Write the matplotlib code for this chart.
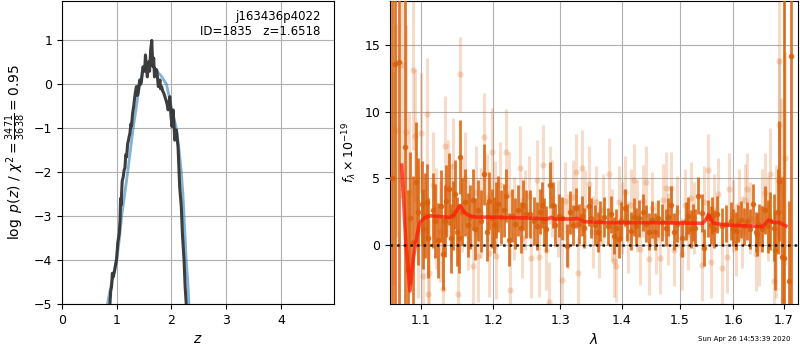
import numpy as np
import matplotlib
matplotlib.use("Agg")
import matplotlib.pyplot as plt
from matplotlib.ticker import NullLocator, FixedLocator, FixedFormatter

# --- p(z) panel ---
z_pz = [0.86, 0.876, 0.89, 0.906, 0.92, 0.937, 0.96, 0.98, 0.998, 1.02, 1.046, 1.06, 1.07, 1.08,
        1.089, 1.10, 1.12, 1.135, 1.15, 1.165, 1.18, 1.20, 1.21, 1.225, 1.24, 1.26, 1.27, 1.29,
        1.31, 1.33, 1.345, 1.36, 1.375, 1.39, 1.405, 1.42, 1.435, 1.45, 1.465, 1.48, 1.495, 1.51,
        1.525, 1.535, 1.545, 1.56, 1.57, 1.59, 1.60, 1.615, 1.62, 1.64, 1.65, 1.665, 1.675, 1.69,
        1.70, 1.73, 1.745, 1.76, 1.79, 1.80, 1.82, 1.84, 1.86, 1.90, 1.92, 1.94, 1.97, 1.99,
        2.01, 2.03, 2.05, 2.06, 2.08, 2.09, 2.11, 2.12, 2.15, 2.18, 2.20, 2.21, 2.23, 2.25,
        2.27, 2.29]
logp = [-5.6, -5.0, -4.7, -4.61, -4.3, -4.38, -4.25, -4.1, -3.96, -3.6, -3.39, -3.1, -2.6, -2.75,
        -2.48, -2.2, -2.1, -1.95, -1.9, -1.6, -1.65, -1.35, -1.3, -1.2, -1.12, -0.9, -0.95, -0.66,
        -0.5, -0.28, -0.15, -0.05, -0.25, -0.2, -0.05, 0.1, 0.0, 0.05, 0.25, 0.40, 0.35, 0.3,
        0.67, 0.5, 0.35, 0.17, 0.4, 0.52, 0.3, 0.65, 0.78, 1.0, 0.7, 0.40, 0.6, 0.17,
        0.35, 0.33, 0.15, -0.05, 0.10, -0.1, -0.05, -0.15, -0.2, -0.36, -0.45, -0.58, -0.28, -0.7,
        -0.96, -0.58, -1.0, -1.27, -1.1, -1.04, -1.3, -1.42, -2.33, -2.79, -3.39, -3.6, -4.0, -4.61,
        -5.0, -5.6]
z_smooth = [0.80, 0.83, 0.90, 1.00, 1.05, 1.09, 1.145, 1.20, 1.25, 1.30, 1.36, 1.42, 1.48, 1.53,
            1.575, 1.62, 1.68, 1.73, 1.82, 1.91, 1.97, 2.03, 2.09, 2.14, 2.18, 2.21, 2.23, 2.25,
            2.27, 2.30, 2.32, 2.34]
logp_smooth = [-5.6, -5.0, -4.55, -4.0, -3.5, -3.0, -2.5, -2.0, -1.5, -1.0, -0.5, 0.0, 0.28, 0.43,
               0.48, 0.46, 0.40, 0.31, 0.18, 0.0, -0.35, -0.7, -1.0, -1.5, -2.0, -2.5, -3.0, -3.5,
               -4.0, -4.5, -5.0, -5.6]

# --- spectrum panel: binned points (dark) ---
wl_dark = [1.0622, 1.0661, 1.0716, 1.0790, 1.0833, 1.0860, 1.0899, 1.0934, 1.0961,
           1.1009, 1.1030, 1.1053, 1.1075, 1.1100, 1.1155, 1.1186, 1.1230, 1.1266, 1.1297, 1.1320,
           1.1343, 1.1378, 1.1411, 1.1433, 1.1456, 1.1487, 1.1514, 1.1526, 1.1553, 1.1594, 1.1636,
           1.1664, 1.1710, 1.1733, 1.1780, 1.1818, 1.1865, 1.1907, 1.1936, 1.1975, 1.2004, 1.2043,
           1.2066, 1.2115, 1.2148, 1.2177, 1.2226, 1.2265, 1.2309, 1.2353, 1.2397, 1.2427, 1.2482,
           1.2541, 1.2591, 1.2641, 1.2682, 1.2712, 1.2743, 1.2778, 1.2845, 1.2881, 1.2927, 1.2989,
           1.3036, 1.3103, 1.3157, 1.3209, 1.3246, 1.3289, 1.3341, 1.3384, 1.3460, 1.3497, 1.3546,
           1.3595, 1.3643, 1.3704, 1.3775, 1.3824, 1.3869, 1.3896, 1.3952, 1.3991, 1.4046, 1.4091,
           1.4147, 1.4204, 1.4243, 1.4293, 1.4362, 1.4401, 1.4460, 1.4517, 1.4574, 1.4621, 1.4691,
           1.4756, 1.4796, 1.4844, 1.4902, 1.4955, 1.5053, 1.5114, 1.5155, 1.5204, 1.5246, 1.5282,
           1.5343, 1.5405, 1.5447, 1.5527, 1.5571, 1.5601, 1.5632, 1.5694, 1.5776, 1.5852, 1.5947,
           1.5990, 1.6042, 1.6087, 1.6139, 1.6202, 1.6267, 1.6319, 1.6384, 1.6431, 1.6462, 1.6496,
           1.6555, 1.6628, 1.6674, 1.6728, 1.6794, 1.6814, 1.6874, 1.6908, 1.6955, 1.6995,
           1.7097, 1.7152]
fl_dark = [5.0, 13.6, 13.7, 7.35, -1.9, 2.0, 0.2, 4.7, 2.5,
           3.1, 1.2, 2.2, 3.2, 0.5, 2.6, 1.8, 0.36, 2.9, -0.7, 1.8,
           3.3, 4.2, 0.5, 2.2, 3.8, 1.0, 0.5, 6.6, 2.5, 3.2, 1.5,
           2.1, 3.4, 1.2, 2.6, 1.8, 5.3, 1.0, 3.3, 2.0, 1.5, 2.6,
           3.1, 2.1, 2.6, 3.7, 0.4, 2.2, 1.6, 2.6, 1.3, 3.0, 2.3,
           2.3, 1.8, 1.45, 2.5, 3.0, 1.8, 1.2, 4.5, 3.0, 1.5, 2.2,
           2.0, -0.05, 2.45, 1.5, 2.8, 1.6, 2.2, 1.3, 2.9, 2.0, 1.5,
           1.0, 1.8, 2.1, 1.4, 2.3, 0.7, 1.3, 0.45, 1.8, 2.8, 1.7,
           1.05, 2.1, 1.4, 2.0, 2.45, 1.6, 1.0, 1.9, 1.0, 2.0, 1.7,
           1.3, 2.1, 3.0, 1.0, 1.6, 0.5, 1.8, 2.2, 1.2, 1.7, 1.3,
           3.7, 2.4, -0.2, 2.0, 1.5, 2.2, 1.2, 2.3, 1.4, 1.6, 1.8,
           1.3, 1.05, 1.6, 1.9, 1.4, 1.8, 1.2, 3.1, 1.0, 0.8, 1.5,
           1.2, 2.6, 1.4, 1.8, 1.3, -0.4, 2.5, 4.8, -0.9, -1.0,
           -2.7, 14.2]
err_dark = [40, 35, 30, 12, 6, 5, 5, 4.5, 4,
            3.2, 3.0, 3.2, 2.9, 3.0, 2.8, 2.8, 2.8, 2.7, 2.7, 2.7,
            2.7, 2.7, 2.6, 2.6, 2.6, 2.6, 2.6, 2.8, 2.5, 2.5, 2.4,
            2.4, 2.3, 2.3, 2.3, 2.3, 2.3, 2.2, 2.2, 2.2, 2.1, 2.1,
            2.1, 2.0, 2.0, 2.0, 2.0, 2.0, 1.9, 1.9, 1.9, 1.9, 1.8,
            1.8, 1.8, 1.8, 1.7, 1.7, 1.7, 1.7, 1.7, 1.7, 1.6, 1.6,
            1.6, 1.6, 1.6, 1.5, 1.5, 1.5, 1.5, 1.5, 1.5, 1.5, 1.5,
            1.5, 1.5, 1.5, 1.4, 1.4, 1.4, 1.4, 1.4, 1.4, 1.4, 1.4,
            1.4, 1.4, 1.4, 1.4, 1.4, 1.4, 1.4, 1.4, 1.4, 1.4, 1.4,
            1.4, 1.4, 1.4, 1.4, 1.4, 1.4, 1.4, 1.4, 1.4, 1.4, 1.4,
            1.4, 1.4, 1.4, 1.4, 1.4, 1.4, 1.4, 1.4, 1.4, 1.4, 1.4,
            1.4, 1.4, 1.4, 1.4, 1.4, 1.4, 1.5, 1.5, 1.5, 1.6, 1.6,
            1.7, 1.8, 2.0, 2.2, 2.5, 3.0, 3.2, 4.5, 6, 25,
            6, 40]

# --- spectrum panel: unbinned points (light) ---
wl_light = [1.0640, 1.0680, 1.0760, 1.0803, 1.0840, 1.0899, 1.0921, 1.0961, 1.0996, 1.1030, 1.1083,
            1.1090, 1.1110, 1.1155, 1.1200, 1.1250, 1.1297, 1.1320, 1.1360, 1.1400, 1.1433, 1.1505,
            1.1526, 1.1560, 1.1600, 1.1640, 1.1710, 1.1750, 1.1780, 1.1820, 1.1865, 1.1907, 1.1936,
            1.1975, 1.2020, 1.2043, 1.2100, 1.2177, 1.2230, 1.2246, 1.2300, 1.2382, 1.2420, 1.2470,
            1.2520, 1.2560, 1.2641, 1.2680, 1.2728, 1.2778, 1.2830, 1.2835, 1.2870, 1.2960, 1.3036,
            1.3080, 1.3120, 1.3200, 1.3246, 1.3275, 1.3341, 1.3400, 1.3460, 1.3520, 1.3570, 1.3620,
            1.3680, 1.3786, 1.3830, 1.3869, 1.3896, 1.3950, 1.4000, 1.4046, 1.4100, 1.4160, 1.4204,
            1.4250, 1.4300, 1.4360, 1.4401, 1.4460, 1.4520, 1.4580, 1.4661, 1.4700, 1.4756, 1.4800,
            1.4844, 1.4900, 1.4960, 1.5053, 1.5100, 1.5160, 1.5210, 1.5270, 1.5405, 1.5450, 1.5527,
            1.5571, 1.5630, 1.5700, 1.5776, 1.5882, 1.5914, 1.5990, 1.6050, 1.6100, 1.6160, 1.6220,
            1.6267, 1.6320, 1.6431, 1.6496, 1.6560, 1.6628, 1.6680, 1.6728, 1.6794, 1.6840, 1.6900,
            1.6910, 1.6950, 1.7015]
fl_light = [5.0, 8.6, 13.5, 8.5, 4.0, 13.1, 8.2, 1.0, 8.4, -2.3, 9.8,
            -3.7, -2.1, 4.5, 2.0, 1.0, -3.3, 7.4, 4.3, 2.5, 5.9, -3.7,
            12.8, 3.0, 5.0, 1.5, -1.6, 4.0, -0.85, 2.4, 8.1, 3.5, -0.6,
            7.0, 3.0, -0.85, 4.5, 7.0, 3.8, -3.4, 2.0, 5.8, 0.5, 2.6,
            3.7, -1.0, 4.9, -0.9, 6.0, -0.4, -4.3, 4.5, 3.5, 2.0, -2.6,
            3.3, 1.0, 3.6, 5.5, -2.1, 5.8, 2.8, 4.6, 1.0, 3.2, 0.2,
            2.6, 5.3, 1.5, -1.2, -1.6, 3.2, 2.0, 4.0, 0.6, 3.0, 4.9,
            2.2, -0.3, 3.3, 4.7, -1.05, 2.8, 0.5, -1.0, 3.4, 4.3, 1.2,
            4.3, -0.4, 2.5, -0.65, 3.0, 0.8, 3.5, 2.0, -1.5, 3.2, 5.6,
            -1.25, 2.6, 3.8, -1.75, -0.9, 4.2, 2.2, 0.4, 3.0, 1.0, 3.4,
            4.2, 2.0, -0.65, -0.3, 2.8, 3.9, 2.0, 5.3, -2.7, 1.0, 13.8,
            9.0, 5.0, 6.5]
err_light = [8, 8, 10, 8, 6, 6, 5, 5, 4.5, 4.0, 4.2,
             4.0, 4.0, 4.0, 3.8, 3.8, 3.8, 3.8, 3.6, 3.6, 3.6, 3.6,
             2.8, 3.5, 3.5, 3.4, 3.4, 3.4, 3.4, 3.4, 3.3, 3.3, 3.3,
             3.3, 3.3, 3.2, 3.2, 3.2, 3.2, 3.2, 3.1, 3.1, 3.0, 3.0,
             3.0, 3.0, 3.0, 3.0, 3.0, 3.0, 3.0, 2.9, 2.9, 2.9, 2.9,
             2.9, 2.8, 2.8, 2.8, 2.8, 2.8, 2.8, 2.8, 2.7, 2.7, 2.7,
             2.7, 2.7, 2.7, 2.7, 2.7, 2.7, 2.7, 2.7, 2.7, 2.7, 2.7,
             2.7, 2.7, 2.7, 2.7, 2.7, 2.7, 2.7, 2.7, 2.7, 2.7, 2.7,
             2.7, 2.7, 2.7, 2.7, 2.7, 2.7, 2.7, 2.7, 2.7, 2.7, 2.7,
             2.7, 2.7, 2.7, 2.7, 2.7, 2.7, 2.7, 2.7, 2.7, 2.7, 2.7,
             2.7, 2.7, 2.8, 2.8, 2.9, 3.0, 3.2, 3.5, 4.0, 5.0, 6.0,
             5.0, 6.0, 8.0]

# --- best-fit model ---
wl_model = [1.0750, 1.0800, 1.0856, 1.0900, 1.0952, 1.0987, 1.1050, 1.1120, 1.1390, 1.1450, 1.1526,
            1.1600, 1.1664, 1.1750, 1.1947, 1.2511, 1.2800, 1.2860, 1.2910, 1.3190, 1.3270, 1.3380,
            1.3730, 1.4700, 1.5420, 1.5480, 1.5530, 1.5580, 1.5630, 1.5890, 1.6300, 1.6570, 1.6690,
            1.6800, 1.6900, 1.7040]
fl_model = [6.0, 0.5, -3.44, -1.0, 0.83, 1.7, 2.05, 2.2, 2.08, 2.3, 2.96,
            2.4, 2.2, 2.1, 2.1, 2.03, 1.96, 2.08, 1.96, 1.96, 2.0, 1.76,
            1.68, 1.68, 1.63, 1.9, 2.3, 1.9, 1.63, 1.5, 1.43, 1.38, 1.88,
            1.68, 1.7, 1.43]

orange = "#d9600a"

fig = plt.figure(figsize=(8, 3.5), dpi=100)

# left: p(z)
ax1 = fig.add_axes([0.0775, 0.1314, 0.34, 0.866])
ax1.plot(z_smooth, logp_smooth, color="#1f77b4", alpha=0.55, lw=2, zorder=3)
ax1.plot(z_pz, logp, color="0.2", alpha=0.95, lw=2.2, zorder=4)
ax1.set_xlim(0, 4.97)
ax1.set_ylim(-5, 1.9)
ax1.set_xticks([0, 1, 2, 3, 4])
ax1.set_yticks([-5, -4, -3, -2, -1, 0, 1])
ax1.grid(True)
ax1.tick_params(labelsize=9)
ax1.set_xlabel("$z$", fontsize=10)
ax1.set_ylabel(r"$\log\ p(z)$ / $\chi^2=\frac{3471}{3638}=0.95$", fontsize=10)
ax1.text(0.95, 0.97, "j163436p4022\nID=1835   z=1.6518", transform=ax1.transAxes,
         ha="right", va="top", fontsize=8.5)

# right: spectrum
ax2 = fig.add_axes([0.4875, 0.1314, 0.51, 0.866])
ax2.errorbar(wl_light, fl_light, yerr=err_light, fmt="o", color=orange, alpha=0.22,
             ms=4.5, elinewidth=2.2, capsize=0, markeredgewidth=0, zorder=2)
ax2.errorbar(wl_dark, fl_dark, yerr=err_dark, fmt="o", color=orange, alpha=0.85,
             ms=4, elinewidth=2, capsize=0, markeredgewidth=0, zorder=3)
ax2.plot(wl_model, fl_model, color="#ff1a0a", alpha=0.75, lw=2.6, zorder=5)
ax2.axhline(0, color="k", linestyle=":", lw=1.8, alpha=0.85, zorder=6)

ax2.set_xscale("log")
ax2.set_xlim(1.06, 1.729)
ax2.set_ylim(-4.42, 18.32)
ax2.xaxis.set_major_locator(FixedLocator([1.1, 1.2, 1.3, 1.4, 1.5, 1.6, 1.7]))
ax2.xaxis.set_major_formatter(FixedFormatter(["1.1", "1.2", "1.3", "1.4", "1.5", "1.6", "1.7"]))
ax2.xaxis.set_minor_locator(NullLocator())
ax2.set_yticks([0, 5, 10, 15])
ax2.grid(True)
ax2.tick_params(labelsize=9)
ax2.set_xlabel(r"$\lambda$", fontsize=10)
ax2.set_ylabel(r"$f_\lambda\times10^{-19}$", fontsize=9)

fig.text(0.9875, 0.031, "Sun Apr 26 14:53:39 2020", fontsize=5, ha="right", va="center")

fig.savefig("out.png", dpi=100)
